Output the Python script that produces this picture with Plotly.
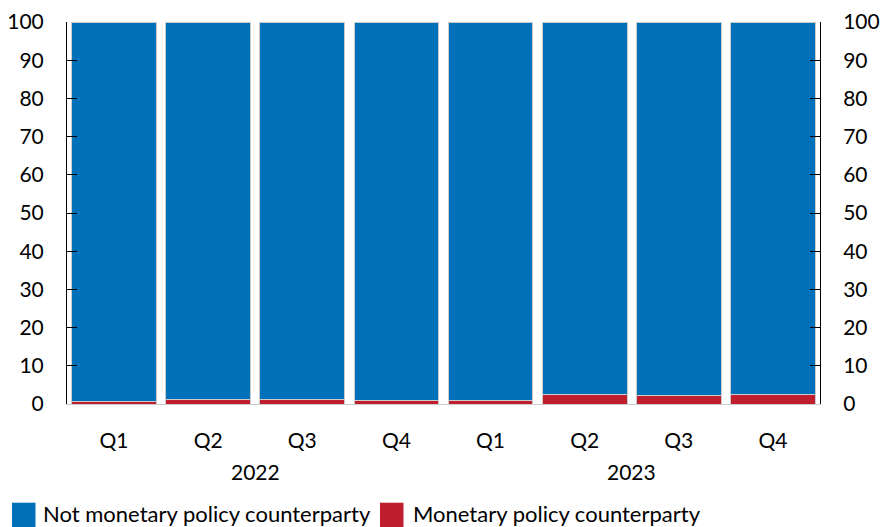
import plotly.graph_objects as go

quarters = ["Q1", "Q2", "Q3", "Q4", "Q1", "Q2", "Q3", "Q4"]
years = ["2022", "2023"]
year_groups = [4, 4]
monetary = [0.6, 1.3, 1.1, 0.8, 0.8, 2.4, 2.3, 2.4]
not_monetary = [100 - v for v in monetary]
series_names = ["Not monetary policy counterparty", "Monetary policy counterparty"]

blue = "#0070B8"
red = "#BE1E2D"
font = "Lato, 'Liberation Sans', sans-serif"

W, H = 882, 527
L, R, T, B = 67, 62, 22, 123
pw, ph = W - L - R, H - T - B


def px_x(x):
    return (x - L) / pw


def px_y(y):
    return (H - B - y) / ph


xs = list(range(len(quarters)))

fig = go.Figure()
fig.add_trace(go.Bar(x=xs, y=monetary, name=series_names[1],
                     marker=dict(color=red, line=dict(color="#cccccc", width=1))))
fig.add_trace(go.Bar(x=xs, y=not_monetary, name=series_names[0],
                     marker=dict(color=blue, line=dict(color="#cccccc", width=1))))
fig.add_trace(go.Scatter(x=xs, y=monetary, yaxis="y2", mode="markers",
                         marker=dict(opacity=0), showlegend=False, hoverinfo="skip"))

# year group labels
annotations = []
start = 0
for yr, n in zip(years, year_groups):
    annotations.append(dict(x=start + (n - 1) / 2, y=px_y(471.5), xref="x", yref="paper",
                            text=yr, showarrow=False, xanchor="center", yanchor="middle",
                            font=dict(size=21)))
    start += n

# legend drawn manually (large square swatches)
shapes = []
legend_items = [(series_names[0], blue, 12, 42), (series_names[1], red, 380, 412)]
for name, col, sx, tx in legend_items:
    shapes.append(dict(type="rect", xref="paper", yref="paper",
                       x0=px_x(sx), x1=px_x(sx + 23.5), y0=px_y(502.7), y1=px_y(527),
                       fillcolor=col, line=dict(width=0)))
    annotations.append(dict(x=px_x(tx), y=px_y(513), xref="paper", yref="paper",
                            text=name, showarrow=False, xanchor="left", yanchor="middle",
                            font=dict(size=22), borderpad=0))

axis_common = dict(range=[0, 100], dtick=10, showgrid=False, showline=True, linecolor="black",
                   linewidth=1, ticks="inside", ticklen=10, tickcolor="black", zeroline=False,
                   tickfont=dict(size=21), ticklabelstandoff=18, automargin=False)

fig.update_layout(
    barmode="stack",
    bargap=0.1,
    width=W, height=H,
    margin=dict(l=L, r=R, t=T, b=B),
    plot_bgcolor="white", paper_bgcolor="white",
    font=dict(family=font, size=21, color="black"),
    showlegend=False,
    xaxis=dict(range=[-0.5, len(quarters) - 0.5], tickvals=xs, ticktext=quarters,
               showline=True, linecolor="#cccccc", linewidth=1, ticks="", showgrid=False,
               zeroline=False, tickfont=dict(size=21), ticklabelstandoff=18, automargin=False),
    yaxis=dict(**axis_common),
    yaxis2=dict(**axis_common, overlaying="y", side="right"),
    shapes=shapes,
    annotations=annotations,
)

fig.write_html("out.html", config={"displayModeBar": False},
               post_script="document.body.style.margin='0';document.body.style.overflow='hidden';")
